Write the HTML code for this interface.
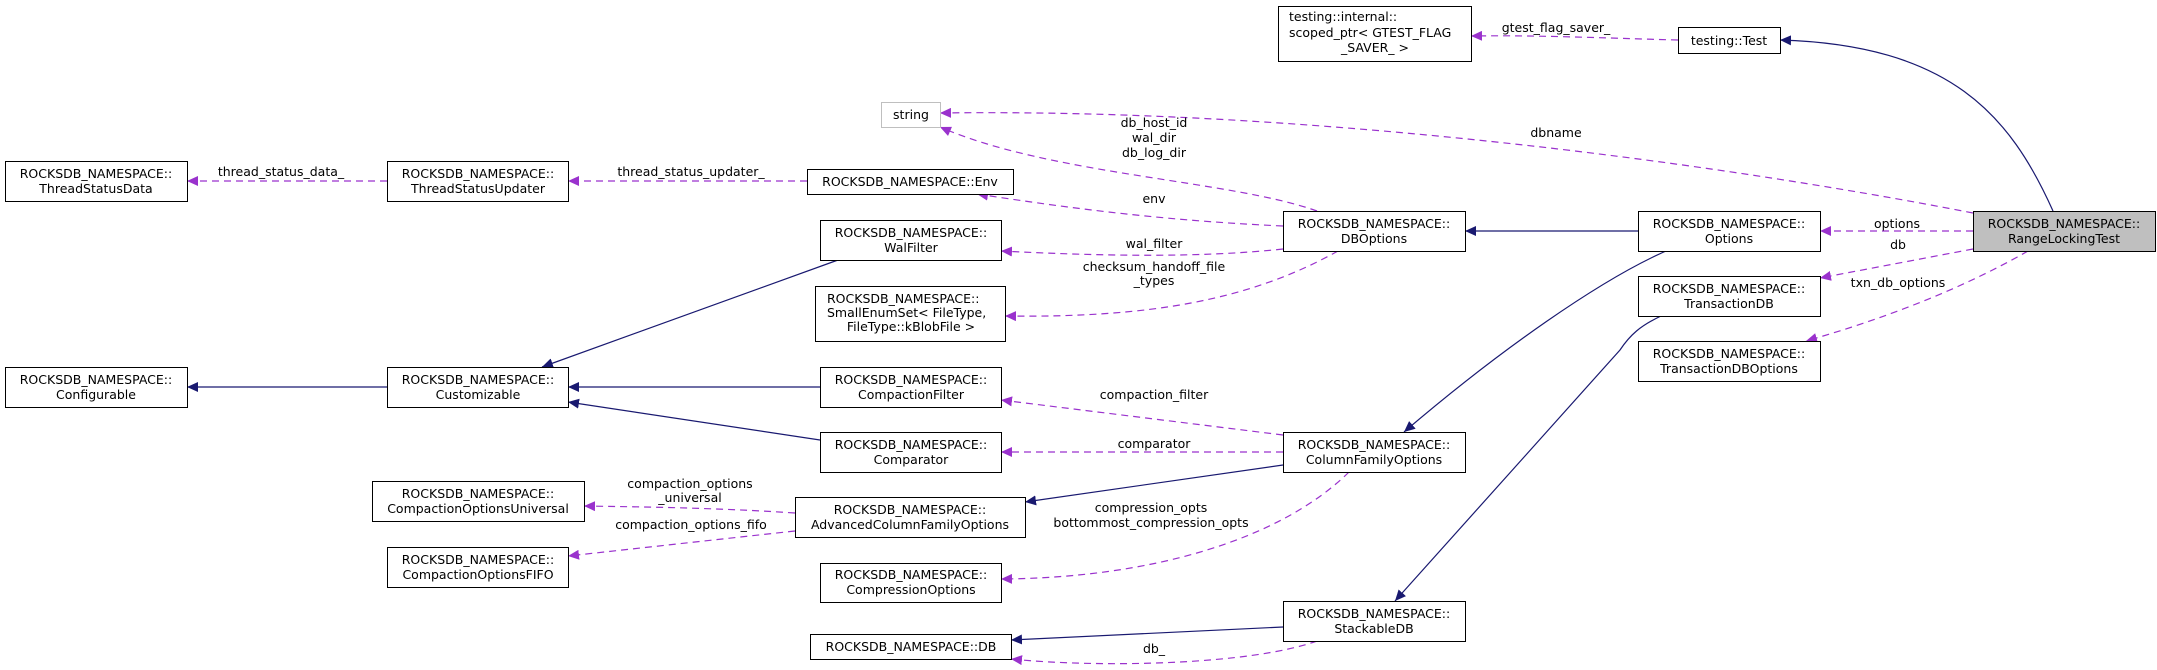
<!DOCTYPE html>
<html><head><meta charset="utf-8"><style>
html,body{margin:0;padding:0;background:#fff;}
svg{display:block;}
text{font-family:"DejaVu Sans","Liberation Sans",sans-serif;font-size:12.5px;fill:#000;}
.n{fill:#fff;stroke:#000;stroke-width:1;}
.s{fill:none;stroke:#191970;stroke-width:1.2;}
.d{fill:none;stroke:#9a32cd;stroke-width:1.2;stroke-dasharray:7,5;}
</style></head><body>
<svg width="2157" height="670" viewBox="0 0 2157 670" xmlns="http://www.w3.org/2000/svg">
<defs>
<marker id="an" markerUnits="userSpaceOnUse" markerWidth="12" markerHeight="10" refX="11" refY="5" orient="auto"><path d="M0,0 L11,5 L0,10 z" fill="#191970"/></marker>
<marker id="ap" markerUnits="userSpaceOnUse" markerWidth="12" markerHeight="10" refX="11" refY="5" orient="auto"><path d="M0,0 L11,5 L0,10 z" fill="#9a32cd"/></marker>
</defs>

<!-- edges -->
<path class="s" marker-end="url(#an)" d="M2053,211 C2010,115 1950,45 1780,40"/>
<path class="d" marker-end="url(#ap)" d="M1678,40 C1600,38 1540,35 1471,36"/>
<path class="d" marker-end="url(#ap)" d="M1973,213 C1700,160 1300,108 940,113"/>
<path class="d" marker-end="url(#ap)" d="M1973,231 L1820,231"/>
<path class="d" marker-end="url(#ap)" d="M1973,249 L1820,278"/>
<path class="d" marker-end="url(#ap)" d="M2028,251 C1960,290 1880,320 1806,341"/>
<path class="s" marker-end="url(#an)" d="M1638,231 L1465,231"/>
<path class="s" marker-end="url(#an)" d="M1666,251 C1600,280 1500,350 1404,432"/>
<path class="s" marker-end="url(#an)" d="M1661,316 C1640,326 1630,335 1620,350 L1395,601"/>
<path class="d" marker-end="url(#ap)" d="M1317,211 C1230,180 1050,175 940,127"/>
<path class="d" marker-end="url(#ap)" d="M1283,226 C1150,220 1050,205 977,194"/>
<path class="d" marker-end="url(#ap)" d="M1283,249 C1200,258 1100,256 1001,251"/>
<path class="d" marker-end="url(#ap)" d="M1338,251 C1250,300 1150,318 1005,316"/>
<path class="s" marker-end="url(#an)" d="M838,260 L542,367"/>
<path class="s" marker-end="url(#an)" d="M820,387 L568,387"/>
<path class="s" marker-end="url(#an)" d="M820,440 L568,402"/>
<path class="s" marker-end="url(#an)" d="M387,387 L187,387"/>
<path class="d" marker-end="url(#ap)" d="M387,181 L187,181"/>
<path class="d" marker-end="url(#ap)" d="M807,181 L568,181"/>
<path class="d" marker-end="url(#ap)" d="M1283,435 L1001,400"/>
<path class="d" marker-end="url(#ap)" d="M1283,452 L1001,452"/>
<path class="s" marker-end="url(#an)" d="M1283,465 L1025,502"/>
<path class="d" marker-end="url(#ap)" d="M1349,472 C1280,540 1150,578 1001,579"/>
<path class="d" marker-end="url(#ap)" d="M795,513 C720,508 650,507 584,506"/>
<path class="d" marker-end="url(#ap)" d="M795,531 L568,556"/>
<path class="s" marker-end="url(#an)" d="M1283,627 L1011,640"/>
<path class="d" marker-end="url(#ap)" d="M1317,641 C1250,665 1100,668 1011,659"/>

<!-- edge labels -->
<g text-anchor="middle">
<text x="1556" y="32">gtest_flag_saver_</text>
<text x="1556" y="137">dbname</text>
<text x="1897" y="228">options</text>
<text x="1898" y="249">db</text>
<text x="1898" y="287">txn_db_options</text>
<text x="1154" y="127">db_host_id</text>
<text x="1154" y="142">wal_dir</text>
<text x="1154" y="157">db_log_dir</text>
<text x="1154" y="203">env</text>
<text x="1154" y="248">wal_filter</text>
<text x="1154" y="271">checksum_handoff_file</text>
<text x="1154" y="285">_types</text>
<text x="281" y="176">thread_status_data_</text>
<text x="691" y="176">thread_status_updater_</text>
<text x="1154" y="399">compaction_filter</text>
<text x="1154" y="448">comparator</text>
<text x="1151" y="512">compression_opts</text>
<text x="1151" y="527">bottommost_compression_opts</text>
<text x="690" y="488">compaction_options</text>
<text x="690" y="502">_universal</text>
<text x="691" y="529">compaction_options_fifo</text>
<text x="1154" y="653">db_</text>
</g>

<!-- nodes -->
<g>
<rect class="n" x="5.5" y="161.5" width="182" height="40"/>
<rect class="n" x="387.5" y="161.5" width="181" height="40"/>
<rect class="n" x="5.5" y="367.5" width="182" height="40"/>
<rect class="n" x="387.5" y="367.5" width="181" height="40"/>
<rect class="n" x="372.5" y="481.5" width="212" height="40"/>
<rect class="n" x="387.5" y="547.5" width="181" height="40"/>
<rect x="881.5" y="102.5" width="59" height="25" fill="#fff" stroke="#bfbfbf"/>
<rect class="n" x="807.5" y="169.5" width="206" height="25"/>
<rect class="n" x="820.5" y="220.5" width="181" height="40"/>
<rect class="n" x="815.5" y="286.5" width="190" height="55"/>
<rect class="n" x="820.5" y="367.5" width="181" height="40"/>
<rect class="n" x="820.5" y="432.5" width="181" height="40"/>
<rect class="n" x="795.5" y="497.5" width="230" height="40"/>
<rect class="n" x="820.5" y="563.5" width="181" height="39"/>
<rect class="n" x="810.5" y="634.5" width="201" height="25"/>
<rect class="n" x="1283.5" y="211.5" width="182" height="40"/>
<rect class="n" x="1283.5" y="432.5" width="182" height="40"/>
<rect class="n" x="1283.5" y="601.5" width="182" height="40"/>
<rect class="n" x="1278.5" y="6.5" width="193" height="55"/>
<rect class="n" x="1678.5" y="27.5" width="102" height="26"/>
<rect class="n" x="1638.5" y="211.5" width="182" height="40"/>
<rect class="n" x="1638.5" y="276.5" width="182" height="40"/>
<rect class="n" x="1638.5" y="341.5" width="182" height="40"/>
<rect x="1973.5" y="211.5" width="182" height="40" fill="#bfbfbf" stroke="#000"/>
</g>

<g text-anchor="middle">
<text x="96" y="178">ROCKSDB_NAMESPACE::</text><text x="96" y="193">ThreadStatusData</text>
<text x="478" y="178">ROCKSDB_NAMESPACE::</text><text x="478" y="193">ThreadStatusUpdater</text>
<text x="96" y="384">ROCKSDB_NAMESPACE::</text><text x="96" y="399">Configurable</text>
<text x="478" y="384">ROCKSDB_NAMESPACE::</text><text x="478" y="399">Customizable</text>
<text x="478" y="498">ROCKSDB_NAMESPACE::</text><text x="478" y="513">CompactionOptionsUniversal</text>
<text x="478" y="564">ROCKSDB_NAMESPACE::</text><text x="478" y="579">CompactionOptionsFIFO</text>
<text x="911" y="119">string</text>
<text x="910" y="186">ROCKSDB_NAMESPACE::Env</text>
<text x="911" y="237">ROCKSDB_NAMESPACE::</text><text x="911" y="252">WalFilter</text>
<text x="911" y="331">FileType::kBlobFile &gt;</text>
<text x="911" y="384">ROCKSDB_NAMESPACE::</text><text x="911" y="399">CompactionFilter</text>
<text x="911" y="449">ROCKSDB_NAMESPACE::</text><text x="911" y="464">Comparator</text>
<text x="910" y="514">ROCKSDB_NAMESPACE::</text><text x="910" y="529">AdvancedColumnFamilyOptions</text>
<text x="911" y="579">ROCKSDB_NAMESPACE::</text><text x="911" y="594">CompressionOptions</text>
<text x="911" y="651">ROCKSDB_NAMESPACE::DB</text>
<text x="1374" y="228">ROCKSDB_NAMESPACE::</text><text x="1374" y="243">DBOptions</text>
<text x="1374" y="449">ROCKSDB_NAMESPACE::</text><text x="1374" y="464">ColumnFamilyOptions</text>
<text x="1374" y="618">ROCKSDB_NAMESPACE::</text><text x="1374" y="633">StackableDB</text>
<text x="1375" y="52">_SAVER_ &gt;</text>
<text x="1729" y="45">testing::Test</text>
<text x="1729" y="228">ROCKSDB_NAMESPACE::</text><text x="1729" y="243">Options</text>
<text x="1729" y="293">ROCKSDB_NAMESPACE::</text><text x="1729" y="308">TransactionDB</text>
<text x="1729" y="358">ROCKSDB_NAMESPACE::</text><text x="1729" y="373">TransactionDBOptions</text>
<text x="2064" y="228">ROCKSDB_NAMESPACE::</text><text x="2064" y="243">RangeLockingTest</text>
</g>
<text x="827" y="303">ROCKSDB_NAMESPACE::</text>
<text x="827" y="317">SmallEnumSet&lt; FileType,</text>
<text x="1289" y="21">testing::internal::</text>
<text x="1289" y="37">scoped_ptr&lt; GTEST_FLAG</text>
</svg>
</body></html>
